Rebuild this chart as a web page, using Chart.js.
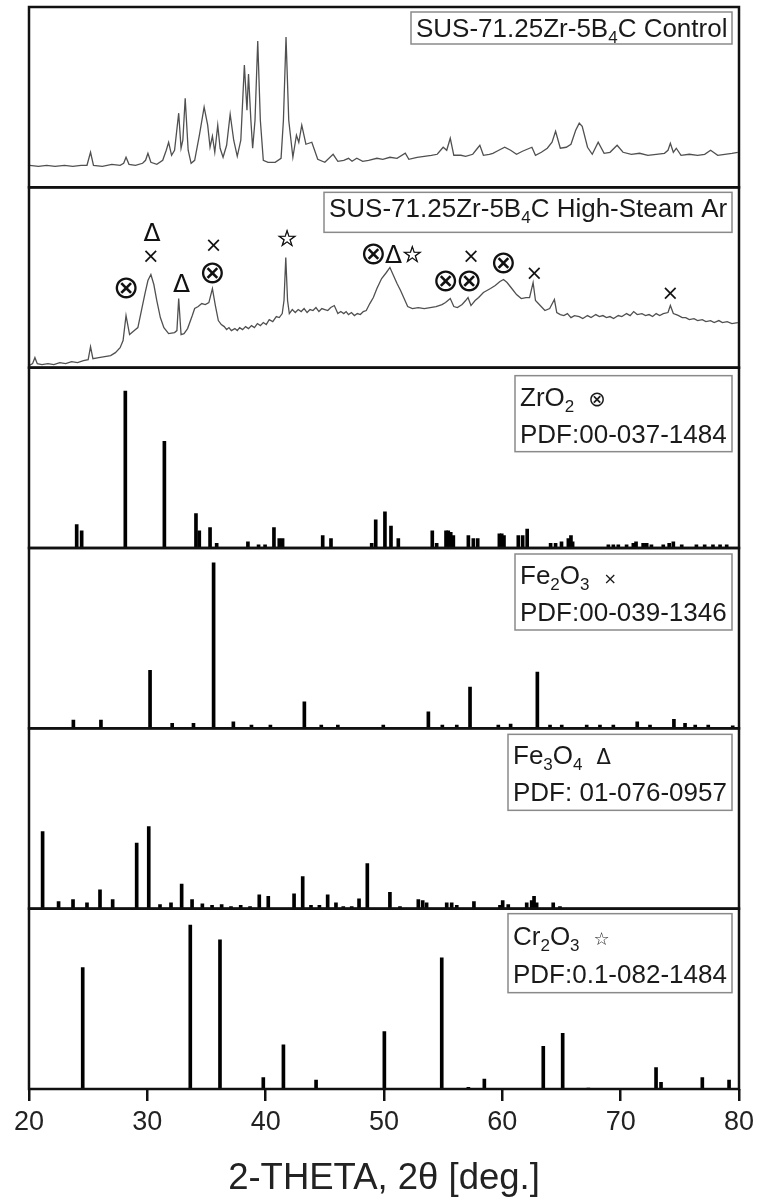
<!DOCTYPE html>
<html>
<head>
<meta charset="utf-8">
<title>XRD patterns</title>
<script src="https://cdn.jsdelivr.net/npm/chart.js@4.4.1/dist/chart.umd.min.js"></script>
<style>
  html, body { margin: 0; padding: 0; background: #fff; }
  #xrd { display: block; }
</style>
</head>
<body>
<canvas id="xrd" width="760" height="1204"></canvas>
<script>
// x axis ticks (2θ, deg)
const thetaTicks = [20, 30, 40, 50, 60, 70, 80];

// measured pattern, control sample
const ctlTheta = [20.05,20.8,21.5,22.2,23.0,23.7,24.4,24.9,25.2,25.45,
  26.2,27.0,27.7,28.0,28.2,28.45,29.0,29.6,29.85,30.05,
  30.3,30.8,31.3,31.6,31.8,32.05,32.3,32.65,32.85,33.0,
  33.2,33.45,33.7,34.0,34.4,34.8,35.1,35.3,35.5,35.7,
  35.95,36.15,36.4,36.7,37.0,37.3,37.6,37.9,38.2,38.42,
  38.55,38.75,38.9,39.1,39.33,39.55,39.8,40.2,40.8,41.3,
  41.5,41.72,41.95,42.3,42.6,42.8,43.05,43.4,43.9,44.4,
  45.0,45.7,46.1,46.6,47.0,47.3,47.7,48.2,48.7,49.4,
  49.9,50.5,51.1,51.8,52.1,52.8,53.4,54.0,54.5,55.0,
  55.3,55.6,55.9,56.5,56.9,57.5,57.9,58.1,58.4,58.9,
  59.2,59.7,60.2,60.7,61.2,61.7,62.1,62.5,62.8,63.3,
  63.8,64.2,64.5,64.9,65.4,65.8,66.2,66.5,66.75,67.2,
  67.6,68.1,68.6,69.1,69.7,70.2,70.9,71.6,72.3,73.0,
  73.7,74.0,74.2,74.45,74.7,75.1,75.8,76.5,77.1,77.6,
  78.2,78.8,79.4,79.9];
const ctlCounts = [22,21,22,21,22,21,22,22,35,22,
  21,23,22,24,30,23,22,24,27,34,
  25,23,27,37,45,32,37,74,39,47,
  89,37,24,27,52,80,62,40,51,35,
  62,39,30,42,73,47,31,47,122,77,
  113,67,39,67,146,67,27,25,25,29,
  67,150,67,30,52,45,62,43,45,28,
  25,33,26,27,29,26,29,26,27,29,
  28,30,29,34,28,30,31,32,33,40,
  37,49,32,32,31,33,39,42,32,33,
  34,37,40,37,33,36,38,40,32,35,
  39,45,56,39,40,43,57,64,61,40,
  33,45,34,35,42,35,33,34,32,33,
  34,37,44,35,39,32,33,32,33,37,
  32,33,34,35];

// measured pattern, high-steam Ar sample
const steamTheta = [20.0,20.3,20.5,20.7,21.1,21.6,22.1,22.6,23.1,23.6,
  24.1,24.6,25.0,25.2,25.4,25.9,26.4,26.9,27.3,27.7,
  27.95,28.2,28.5,28.9,29.2,29.5,29.8,30.05,30.3,30.55,
  30.8,31.1,31.4,31.8,32.3,32.5,32.65,32.85,33.1,33.4,
  33.8,34.0,34.3,34.6,34.9,35.2,35.5,35.75,36.0,36.25,
  36.5,36.7,36.9,37.1,37.4,37.6,37.8,38.05,38.3,38.55,
  38.8,39.05,39.3,39.55,39.8,40.05,40.3,40.6,40.9,41.15,
  41.4,41.55,41.7,41.85,42.0,42.25,42.5,42.75,43.0,43.25,
  43.5,43.75,44.0,44.25,44.5,44.75,45.0,45.25,45.5,45.8,
  46.1,46.35,46.6,46.8,47.0,47.25,47.5,47.75,48.0,48.25,
  48.5,48.8,49.1,49.4,49.8,50.2,50.5,50.8,51.1,51.4,
  51.7,52.0,52.4,52.9,53.4,53.9,54.4,54.9,55.2,55.6,
  55.9,56.2,56.6,56.9,57.1,57.35,57.7,58.0,58.4,58.7,
  59.0,59.4,59.8,60.1,60.4,60.8,61.2,61.6,62.0,62.3,
  62.6,62.8,63.2,63.6,64.0,64.4,64.6,64.9,65.2,65.5,
  65.8,66.1,66.5,66.8,67.2,67.5,67.9,68.2,68.5,68.8,
  69.1,69.4,69.8,70.1,70.5,70.8,71.1,71.4,71.8,72.1,
  72.4,72.7,73.0,73.3,73.6,74.0,74.2,74.45,74.7,74.9,
  75.2,75.5,75.8,76.2,76.5,76.9,77.2,77.6,77.9,78.3,
  78.6,79.0,79.4,79.9];
const steamCounts = [2,4,10,4,3,4,3,5,4,6,
  5,7,8,21,9,10,11,12,15,20,
  27,52,33,37,40,57,74,87,93,83,
  67,50,40,34,35,37,69,33,34,39,
  52,59,61,64,63,65,79,62,47,43,
  41,38,40,37,39,37,40,38,41,39,
  42,40,44,42,45,43,48,46,51,50,
  54,67,110,67,54,58,55,58,56,59,
  55,58,57,60,56,59,58,57,60,62,
  54,56,54,56,53,55,52,54,53,56,
  57,64,70,79,89,95,100,92,84,77,
  69,61,59,60,59,60,61,63,65,69,
  61,60,63,67,70,62,67,70,75,77,
  79,82,86,88,85,79,73,69,70,70,
  85,67,62,57,59,68,55,53,52,54,
  50,52,51,49,52,50,53,51,52,50,
  51,49,52,51,54,52,56,53,54,52,
  53,51,54,52,54,55,62,54,53,52,
  50,50,48,49,47,48,46,47,45,47,
  45,46,44,45];

// phase marks above the high-steam pattern
const markTheta = [28.2, 30.3, 30.4, 32.9, 35.5, 35.6, 41.8, 49.1, 50.8, 52.4, 55.2, 57.2, 57.35, 60.1, 62.7, 74.2];
const markLevel = [80, 111, 135, 85, 94, 122, 129, 113, 113, 113, 87, 87, 111, 104, 94, 74];
const markSymbol = ['⊗', '×', 'Δ', 'Δ', '⊗', '×', '☆', '⊗', 'Δ', '☆', '⊗', '⊗', '×', '⊗', '×', '×'];

// reference cards: peak position (2θ) and relative intensity
const zrTheta = [24.03,24.45,28.14,31.44,34.11,34.39,35.30,35.86,38.50,39.40,
  39.95,40.70,41.15,41.43,44.82,45.52,48.96,49.30,50.08,50.59,
  51.21,54.08,54.45,55.24,55.43,55.64,55.86,57.13,57.55,57.92,
  59.75,59.95,60.14,61.35,61.72,62.10,64.08,64.50,65.00,65.58,
  65.80,65.94,68.96,69.38,69.80,70.50,71.07,71.30,71.90,72.20,
  72.60,73.60,74.10,74.45,75.16,76.40,77.10,77.80,78.40,78.96];
const zrInt = [15,11,100,68,22,11,13,3,4,2,
  2,13,6,6,8,6,3,18,23,14,
  6,11,3,11,11,10,8,8,6,6,
  9,9,8,8,8,12,3,3,4,6,
  8,4,2,2,2,2,3,4,3,3,
  2,2,3,4,2,2,2,2,2,2];

const fe2Theta = [23.75,26.08,30.23,32.10,33.90,35.60,37.27,38.80,40.40,43.27,
  44.70,46.10,49.94,53.75,54.93,56.15,57.27,59.66,60.70,62.96,
  64.03,65.02,67.13,68.25,69.38,71.40,72.48,74.50,75.44,76.30,
  77.40,79.47];
const fe2Int = [5,5,35,3,3,100,4,2,2,16,
  2,2,2,10,2,2,25,2,2.5,34,
  2,2,2,2,2,4,2,5.5,3,2,
  2,1.5];

const fe3Theta = [21.15,22.50,23.72,24.90,26.00,27.07,29.10,30.12,31.07,32.00,
  32.90,33.78,34.65,35.47,36.28,37.07,37.89,38.68,39.46,40.22,
  42.40,43.13,43.83,44.54,45.24,45.94,46.56,47.27,47.89,48.59,
  50.50,51.35,52.90,53.27,53.60,55.30,55.72,56.15,57.60,59.80,
  60.03,60.50,62.06,62.48,62.68,62.90,64.30,64.87];
const fe3Int = [94,8.5,11,7,23,11,80,100,5,7,
  30,11,6,4,5,2.5,4,2.5,17,15,
  18,39,4,4,17,7,2.5,2.5,12,55,
  20,2.5,11,10,7,7,7,4,8.5,4,
  10,5,7,10,15,7,7,2.5];

const crTheta = [24.54,33.63,36.14,39.80,41.50,44.26,50.03,54.88,57.13,58.48,
  63.46,65.10,67.27,72.99,73.41,76.90,79.16];
const crInt = [74,100,91,7,27,5.5,35,80,1,6,
  26,34,0.5,13,4,7,5.5];

// panel captions, top to bottom ("_n" = subscript)
const panelAxes = ['yCtl', 'ySteam', 'yZr', 'yFe2', 'yFe3', 'yCr'];
const panelNames = ['SUS-71.25Zr-5B_4C Control', 'SUS-71.25Zr-5B_4C High-Steam Ar', 'ZrO_2', 'Fe_2O_3', 'Fe_3O_4', 'Cr_2O_3'];
const panelMarks = ['', '', '⊗', '×', 'Δ', '☆'];
const panelCards = ['', '', 'PDF:00-037-1484', 'PDF:00-039-1346', 'PDF: 01-076-0957', 'PDF:0.1-082-1484'];

const FONT = '"Liberation Sans", Arial, sans-serif';
const SYM_FONT = '"DejaVu Sans", sans-serif';

const toPoints = (xs, ys) => xs.map((x, i) => ({ x: x, y: ys[i] }));

// text with subscripts, returns the x where it ends
function richText(ctx, text, x, y, draw) {
  const parts = text.split(/_(\d)/);
  parts.forEach((p, i) => {
    if (!p) return;
    const sub = i % 2 === 1;
    ctx.font = (sub ? '17px ' : '26px ') + FONT;
    if (draw) ctx.fillText(p, x, sub ? y + 6 : y);
    x += ctx.measureText(p).width;
  });
  return x;
}

// size a symbol so its ink is about w pixels wide
function glyphFont(ctx, sym, w) {
  ctx.font = '100px ' + SYM_FONT;
  const m = ctx.measureText(sym);
  const ink = m.actualBoundingBoxLeft + m.actualBoundingBoxRight;
  return Math.round(100 * w / ink) + 'px ' + SYM_FONT;
}

const markWidth = { '⊗': 21, 'Δ': 17, '×': 12, '☆': 18 };
const legendMarkWidth = { '⊗': 14, 'Δ': 14, '×': 9, '☆': 14 };
// caption box placement: offset from panel top, height, text baselines
const boxLayout = {
  yCtl: { dy: 5, h: 32, base: [25] },
  ySteam: { dy: 5, h: 40, base: [25] },
  yZr: { dy: 8, h: 76, base: [30, 67] },
  yFe2: { dy: 6, h: 76, base: [30, 67] },
  yFe3: { dy: 6, h: 76, base: [30, 67] },
  yCr: { dy: 5, h: 79, base: [31, 69] }
};

const panelDecor = {
  id: 'panelDecor',
  afterDraw(chart) {
    const { ctx, chartArea, scales } = chart;
    const x = scales.x;
    ctx.save();

    // marks over the steam pattern
    const ys = scales.ySteam;
    ctx.fillStyle = '#111';
    ctx.strokeStyle = '#111';
    ctx.lineWidth = 0.6;
    ctx.textAlign = 'center';
    ctx.textBaseline = 'alphabetic';
    markTheta.forEach((t, i) => {
      const s = markSymbol[i];
      ctx.font = glyphFont(ctx, s, markWidth[s]);
      const m = ctx.measureText(s);
      const px = x.getPixelForValue(t);
      const py = ys.getPixelForValue(markLevel[i]) + (m.actualBoundingBoxAscent - m.actualBoundingBoxDescent) / 2;
      ctx.fillText(s, px, py);
      if (s === '☆') ctx.strokeText(s, px, py);
    });

    // caption boxes
    ctx.textAlign = 'left';
    panelAxes.forEach((id, k) => {
      const s = scales[id];
      const lay = boxLayout[id];
      const lines = [panelNames[k]];
      if (panelCards[k]) lines.push(panelCards[k]);
      let w = 0;
      lines.forEach(l => { w = Math.max(w, richText(ctx, l, 0, 0, false)); });
      const bw = Math.round(w + 10);
      const bx = chartArea.right - 7 - bw;
      const by = s.top + lay.dy;
      ctx.fillStyle = '#fff';
      ctx.fillRect(bx, by, bw, lay.h);
      ctx.strokeStyle = '#8a8a8a';
      ctx.lineWidth = 1.5;
      ctx.strokeRect(bx, by, bw, lay.h);
      ctx.fillStyle = '#1a1a1a';
      lines.forEach((l, j) => {
        const end = richText(ctx, l, bx + 5, by + lay.base[j], true);
        if (j === 0 && panelMarks[k]) {
          const sym = panelMarks[k];
          ctx.font = glyphFont(ctx, sym, legendMarkWidth[sym]);
          ctx.fillText(sym, end + 14, by + lay.base[j]);
        }
      });
    });

    // panel frames
    ctx.strokeStyle = '#111';
    ctx.lineWidth = 2.5;
    panelAxes.forEach(id => {
      const s = scales[id];
      ctx.strokeRect(chartArea.left, s.top, chartArea.right - chartArea.left, s.bottom - s.top);
    });
    ctx.restore();
  }
};

function panelAxis(max) {
  return {
    type: 'linear', position: 'left', stack: 'xrd', stackWeight: 1,
    display: false, min: 0, max: max
  };
}

function stickSet(xs, ys, axis) {
  return {
    type: 'bar', data: toPoints(xs, ys), yAxisID: axis,
    backgroundColor: '#000', borderWidth: 0, barThickness: 3, grouped: false
  };
}

function traceSet(xs, ys, axis) {
  return {
    type: 'line', data: toPoints(xs, ys), yAxisID: axis,
    borderColor: '#505050', borderWidth: 1.3, pointRadius: 0, tension: 0, fill: false
  };
}

new Chart(document.getElementById('xrd'), {
  type: 'line',
  data: {
    datasets: [
      traceSet(ctlTheta, ctlCounts, 'yCtl'),
      traceSet(steamTheta, steamCounts, 'ySteam'),
      stickSet(zrTheta, zrInt, 'yZr'),
      stickSet(fe2Theta, fe2Int, 'yFe2'),
      stickSet(fe3Theta, fe3Int, 'yFe3'),
      stickSet(crTheta, crInt, 'yCr')
    ]
  },
  options: {
    responsive: false,
    animation: false,
    devicePixelRatio: 1,
    events: [],
    layout: { padding: { left: 29, right: 21, top: 7, bottom: 0 } },
    plugins: { legend: { display: false }, tooltip: { enabled: false } },
    scales: {
      x: {
        type: 'linear', position: 'bottom', min: 20, max: 80, offset: false,
        afterBuildTicks: s => { s.ticks = thetaTicks.map(v => ({ value: v })); },
        afterFit: s => { s.height = 115; },
        grid: { offset: false, drawOnChartArea: false, drawTicks: true, tickLength: 12, color: '#111', lineWidth: 2.5 },
        border: { display: false },
        ticks: { color: '#222', font: { family: FONT, size: 27 }, padding: 5, maxRotation: 0, autoSkip: false },
        title: {
          display: true, text: '2-THETA, 2θ [deg.]', color: '#222',
          font: { family: FONT, size: 36.5 }, padding: { top: 0, bottom: 3 }
        }
      },
      // stacked panels, bottom first
      yCr: panelAxis(110),
      yFe3: panelAxis(220),
      yFe2: panelAxis(109),
      yZr: panelAxis(115),
      ySteam: panelAxis(180),
      yCtl: panelAxis(180)
    }
  },
  plugins: [panelDecor]
});
</script>
</body>
</html>
